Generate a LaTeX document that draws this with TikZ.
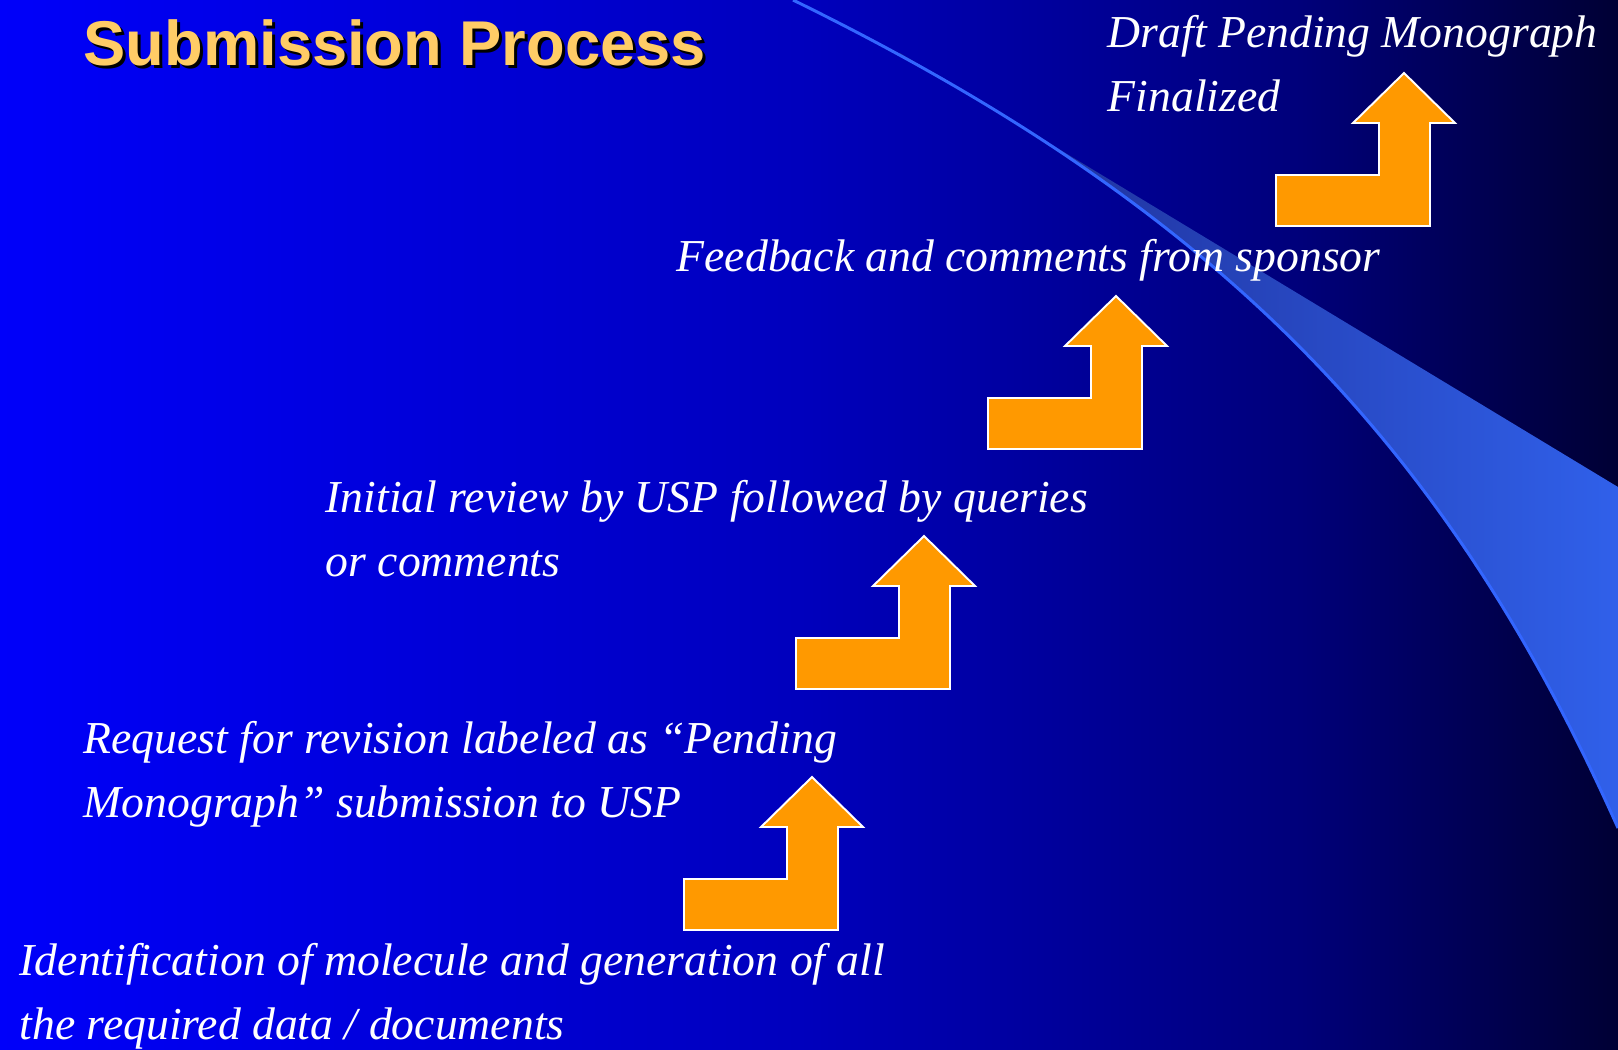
\documentclass[tikz,border=0pt]{standalone}
\usepackage{fontspec}
\setmainfont{Liberation Serif}
\newfontfamily\headfont{Liberation Sans}
\usetikzlibrary{positioning}

\definecolor{arrowfill}{RGB}{255,153,0}
\definecolor{titlegold}{RGB}{255,204,102}
\definecolor{swooshblue}{RGB}{51,102,255}

\begin{document}
\begin{tikzpicture}[
		x=0.1mm, y=-0.1mm,
		stage/.style={anchor=base west, align=left, inner sep=0pt, text=white, font=\fontsize{13}{18}\selectfont\itshape},
		heading/.style={anchor=base west, inner sep=0pt, font=\headfont\bfseries\fontsize{18}{20}\selectfont},
		arrowbody/.style={fill=arrowfill, draw=white, line width=0.55pt, line join=miter},
		upstep/.pic={
			\draw[arrowbody] (0,0) -- (51,50) -- (26,50) -- (26,153) -- (-128,153) -- (-128,102) -- (-25,102) -- (-25,50) -- (-51,50) -- cycle;
		}
		]
		\useasboundingbox (0,0) rectangle (1618,1049);
		
		% background, blue fading to navy
		\shade[left color={rgb,255:red,0;green,0;blue,250}, right color={rgb,255:red,0;green,0;blue,188}] (0,0) rectangle (810,1049);
		\shade[left color={rgb,255:red,0;green,0;blue,188}, right color={rgb,255:red,0;green,0;blue,122}] (809,0) rectangle (1301,1049);
		\shade[left color={rgb,255:red,0;green,0;blue,122}, right color={rgb,255:red,0;green,0;blue,52}] (1300,0) rectangle (1618,1049);
		
		% light wedge under the curve
		\begin{scope}
			\clip (793,0) .. controls (1213,206) and (1444,438) .. (1618,828) -- (1618,0) -- cycle;
			\shade[left color={rgb,255:red,28;green,40;blue,140}, right color={rgb,255:red,48;green,96;blue,234}] (900,53) -- (1618,487) -- (1618,1049) -- (900,1049) -- cycle;
		\end{scope}
		\draw[swooshblue, line width=0.85pt] (793,0) .. controls (1213,206) and (1444,438) .. (1618,828);
		
		% title with its shadow
		\node[heading, text=black] at (86,68) {Submission Process};
		\node[heading, text=titlegold] (title) at (83,65) {Submission Process};
		
		% steps (base = last line)
		\node[stage] (p1) at (19,1039) {Identification of molecule and generation of all\\the required data / documents};
		\node[stage] (p2) at (83,817) {Request for revision labeled as “Pending\\Monograph” submission to USP};
		\node[stage] (p3) at (325,576) {Initial review by USP followed by queries\\or comments};
		\node[stage] (p4) at (676,271) {Feedback and comments from sponsor};
		\node[stage] (p5) at (1107,111) {Draft Pending Monograph\\Finalized};
		
		% arrows between the steps
		\pic (a1) at (812,777) {upstep};
		\pic (a2) at (924,536) {upstep};
		\pic (a3) at (1116,296) {upstep};
		\pic (a4) at (1404,73) {upstep};
		
	\end{tikzpicture}
\end{document}
